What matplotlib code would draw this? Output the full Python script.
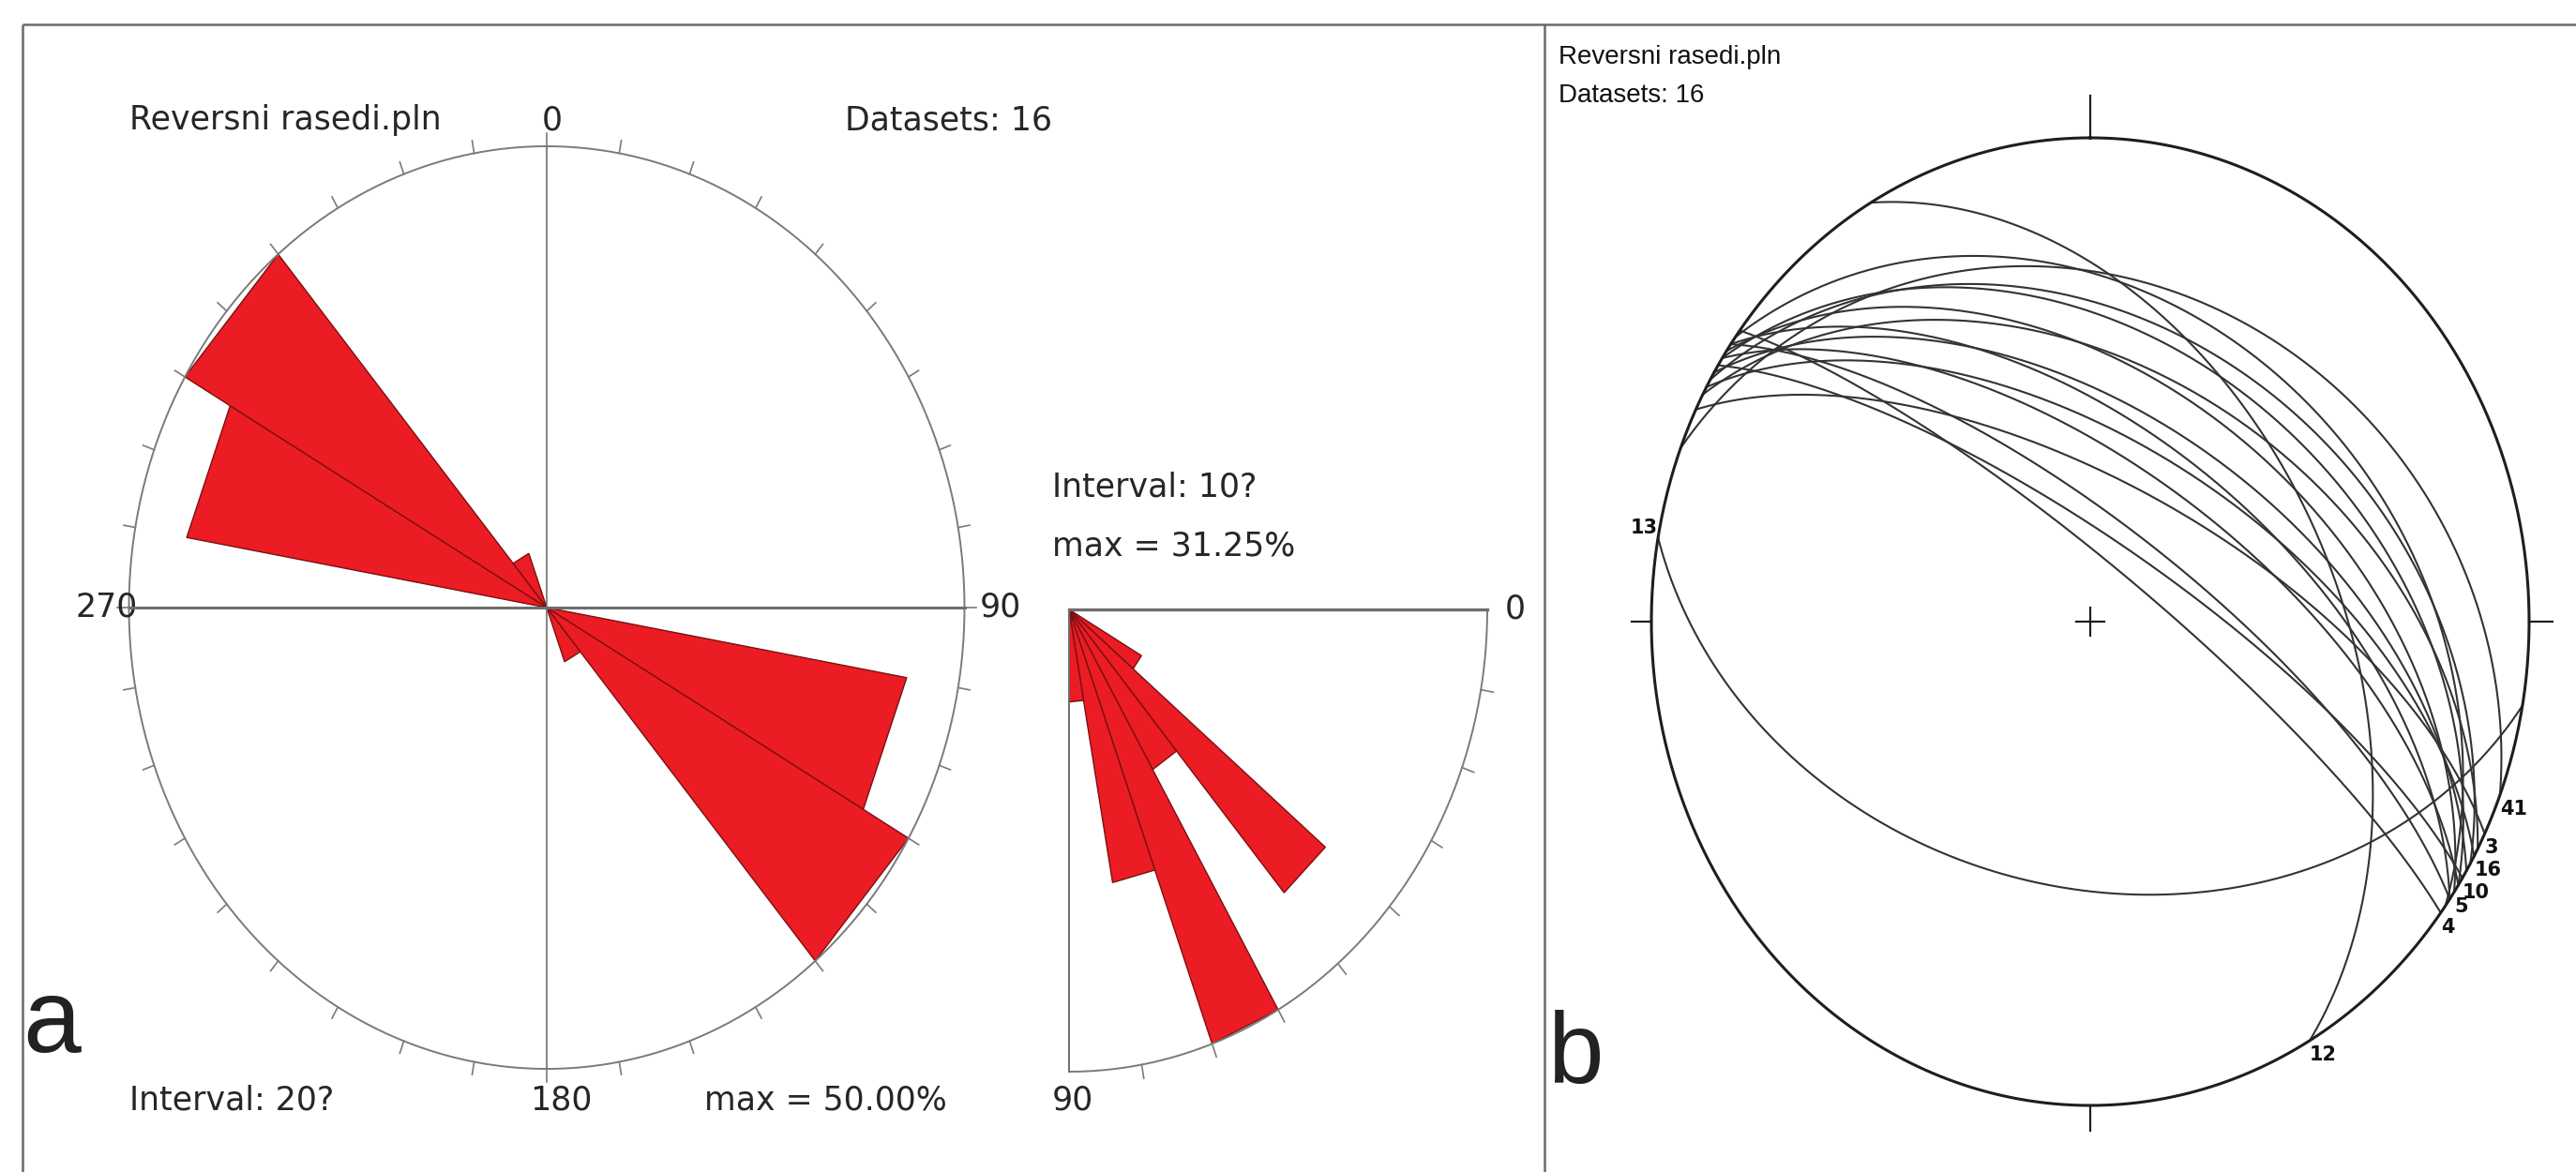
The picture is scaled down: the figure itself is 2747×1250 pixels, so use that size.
import numpy as np
import matplotlib
matplotlib.use("Agg")
import matplotlib.pyplot as plt

# ---------------- data ----------------
file_name = "Reversni rasedi.pln"
n_datasets = 16

# strike rose (bidirectional), 20 degree bins 0-180, counts of planes
strike_bin_starts = [0, 20, 40, 60, 80, 100, 120, 140, 160]
strike_counts = [0, 0, 0, 0, 0, 7, 8, 1, 0]
strike_interval = 20

# dip rose, 10 degree bins 0-90, counts of planes
dip_bin_starts = [0, 10, 20, 30, 40, 50, 60, 70, 80]
dip_counts = [0, 0, 0, 1, 4, 2, 5, 3, 1]
dip_interval = 10

# planes for the stereonet (right-hand-rule strike, dip), with their labels
plane_labels = ["41", "3", "", "16", "", "", "10", "", "", "5", "", "", "", "4", "12", "13"]
plane_strikes = [291, 296, 298, 299, 300, 301, 302, 303, 303, 304, 305, 305, 306, 307, 330, 100]
plane_dips = [30, 66, 46, 59, 38, 54, 76, 41, 63, 48, 57, 73, 34, 80, 45, 44]

# ---------------- figure ----------------
W, H = 2747, 1250
fig = plt.figure(figsize=(W / 100, H / 100), dpi=100)
fig.patch.set_facecolor("white")

TXT = "#262626"
RED = "#ec1c24"
RED_EDGE = "#7a1010"
GREY = "#7a7a7a"


def panel_axes(cx, cy, rx, ry, xlim, ylim):
    """Axes whose data unit is rx pixels horizontally, ry pixels vertically,
    data origin at pixel (cx, cy) (pixel y measured from the top)."""
    x0 = cx + xlim[0] * rx
    x1 = cx + xlim[1] * rx
    ytop = cy - ylim[1] * ry
    ybot = cy - ylim[0] * ry
    ax = fig.add_axes([x0 / W, (H - ybot) / H, (x1 - x0) / W, (ybot - ytop) / H])
    ax.set_xlim(xlim)
    ax.set_ylim(ylim)
    ax.set_aspect("auto")
    ax.axis("off")
    return ax


# background frame in pixel coordinates
bg = fig.add_axes([0, 0, 1, 1])
bg.set_xlim(0, W)
bg.set_ylim(H, 0)
bg.axis("off")
frame_kw = dict(color="#6a6a6a", lw=1.8, solid_capstyle="butt")
bg.plot([24, W], [26, 26], **frame_kw)
bg.plot([24, 24], [26, H], **frame_kw)
bg.plot([1647, 1647], [26, H], **frame_kw)
bg.text(24, 1122, "a", fontsize=80, family="Liberation Sans", color="#222222",
        ha="left", va="baseline")
bg.text(1650, 1155, "b", fontsize=77, family="Liberation Sans", color="#222222",
        ha="left", va="baseline")
bg.text(1662, 61, file_name, fontsize=20, family="Liberation Sans", color="#111111",
        ha="left", va="center")
bg.text(1662, 102, f"Datasets: {n_datasets}", fontsize=20, family="Liberation Sans",
        color="#111111", ha="left", va="center")

# ---------------- panel a : strike rose ----------------
ax = panel_axes(583, 648, 445.5, 492, (-1.3, 1.3), (-1.3, 1.3))
t = np.radians(np.linspace(0, 360, 721))
ax.plot(np.sin(t), np.cos(t), color=GREY, lw=1.4, zorder=3)
for b in np.radians(np.arange(0, 360, 10)):
    ax.plot([np.sin(b), 1.028 * np.sin(b)], [np.cos(b), 1.028 * np.cos(b)],
            color=GREY, lw=1.2, zorder=3)
ax.plot([-1, 1], [0, 0], color="#6e6e6e", lw=2.2, zorder=4)
ax.plot([0, 0], [-1, 1], color="#6e6e6e", lw=1.2, zorder=4)

strike_pct = np.array(strike_counts) / n_datasets * 100
strike_max = strike_pct.max()
for start, pct in zip(strike_bin_starts, strike_pct):
    if pct <= 0:
        continue
    r = pct / strike_max
    for base in (start, start + 180):
        a0, a1 = np.radians(base), np.radians(base + strike_interval)
        ax.fill([0, r * np.sin(a0), r * np.sin(a1)], [0, r * np.cos(a0), r * np.cos(a1)],
                facecolor=RED, edgecolor=RED_EDGE, lw=1.0, zorder=2)

fa = dict(fontsize=25, family="DejaVu Sans", color=TXT)
ax.text(-1.0, 1.056, file_name, ha="left", va="center", **fa)
ax.text(0.012, 1.056, "0", ha="center", va="center", **fa)
ax.text(0.714, 1.056, f"Datasets: {n_datasets}", ha="left", va="center", **fa)
ax.text(-0.979, 0.0, "270", ha="right", va="center", **fa)
ax.text(1.037, 0.0, "90", ha="left", va="center", **fa)
ax.text(0.034, -1.069, "180", ha="center", va="center", **fa)
ax.text(-1.0, -1.069, f"Interval: {strike_interval}?", ha="left", va="center", **fa)
ax.text(0.958, -1.069, f"max = {strike_max:.2f}%", ha="right", va="center", **fa)

# ---------------- panel a : dip rose (quarter) ----------------
ax2 = panel_axes(1140, 650, 446, 493, (-0.2, 1.25), (-1.25, 0.45))
q = np.radians(np.linspace(0, 90, 181))
ax2.plot(np.cos(q), -np.sin(q), color=GREY, lw=1.4, zorder=3)
for b in np.radians(np.arange(10, 90, 10)):
    ax2.plot([np.cos(b), 1.03 * np.cos(b)], [-np.sin(b), -1.03 * np.sin(b)],
             color=GREY, lw=1.2, zorder=3)
ax2.plot([0, 1], [0, 0], color="#6e6e6e", lw=2.4, zorder=4)
ax2.plot([0, 0], [0, -1], color="#6e6e6e", lw=1.4, zorder=4)

dip_pct = np.array(dip_counts) / n_datasets * 100
dip_max = dip_pct.max()
for start, pct in zip(dip_bin_starts, dip_pct):
    if pct <= 0:
        continue
    r = pct / dip_max
    a0, a1 = np.radians(start), np.radians(start + dip_interval)
    ax2.fill([0, r * np.cos(a0), r * np.cos(a1)], [0, -r * np.sin(a0), -r * np.sin(a1)],
             facecolor=RED, edgecolor=RED_EDGE, lw=1.0, zorder=2)

ax2.text(-0.04, 0.264, f"Interval: {dip_interval}?", ha="left", va="center", **fa)
ax2.text(-0.04, 0.136, f"max = {dip_max:.2f}%", ha="left", va="center", **fa)
ax2.text(1.043, 0.0, "0", ha="left", va="center", **fa)
ax2.text(-0.04, -1.061, "90", ha="left", va="center", **fa)

# ---------------- panel b : stereonet (equal area, lower hemisphere) ----------------
ax3 = panel_axes(2229, 663, 468, 516, (-1.25, 1.25), (-1.25, 1.25))
ax3.plot(np.sin(t), np.cos(t), color="#1e1e1e", lw=2.2, zorder=3)
for b, ln in zip([0, 90, 180, 270], [0.087, 0.053, 0.052, 0.045]):
    br = np.radians(b)
    ax3.plot([np.sin(br), (1 + ln) * np.sin(br)], [np.cos(br), (1 + ln) * np.cos(br)],
             color="#1e1e1e", lw=1.6)
ax3.plot([-0.032, 0.032], [0, 0], color="#1e1e1e", lw=1.6)
ax3.plot([0, 0], [-0.029, 0.029], color="#1e1e1e", lw=1.6)


def great_circle(strike, dip, n=240):
    s = np.radians(strike)
    d = np.radians(dip)
    dd = s + np.pi / 2
    tt = np.linspace(0, np.pi, n)
    north = np.cos(tt) * np.cos(s) + np.sin(tt) * np.cos(d) * np.cos(dd)
    east = np.cos(tt) * np.sin(s) + np.sin(tt) * np.cos(d) * np.sin(dd)
    down = np.sin(tt) * np.sin(d)
    plunge = np.arcsin(np.clip(down, -1, 1))
    trend = np.arctan2(east, north)
    rad = np.sqrt(2) * np.sin((np.pi / 2 - plunge) / 2)
    return rad * np.sin(trend), rad * np.cos(trend)


for lab, s, d in zip(plane_labels, plane_strikes, plane_dips):
    gx, gy = great_circle(s, d)
    ax3.plot(gx, gy, color="#333333", lw=1.5, zorder=2)
    if lab:
        ex, ey = gx[-1], gy[-1]
        ax3.text(ex, ey - (0.01 if ey < 0 else 0), lab, fontsize=15, family="DejaVu Sans",
                 weight="bold", color="#111111",
                 ha="left" if ex > 0 else "right", va="top" if ey < 0 else "bottom")

fig.savefig("out.png", dpi=100, facecolor="white")
